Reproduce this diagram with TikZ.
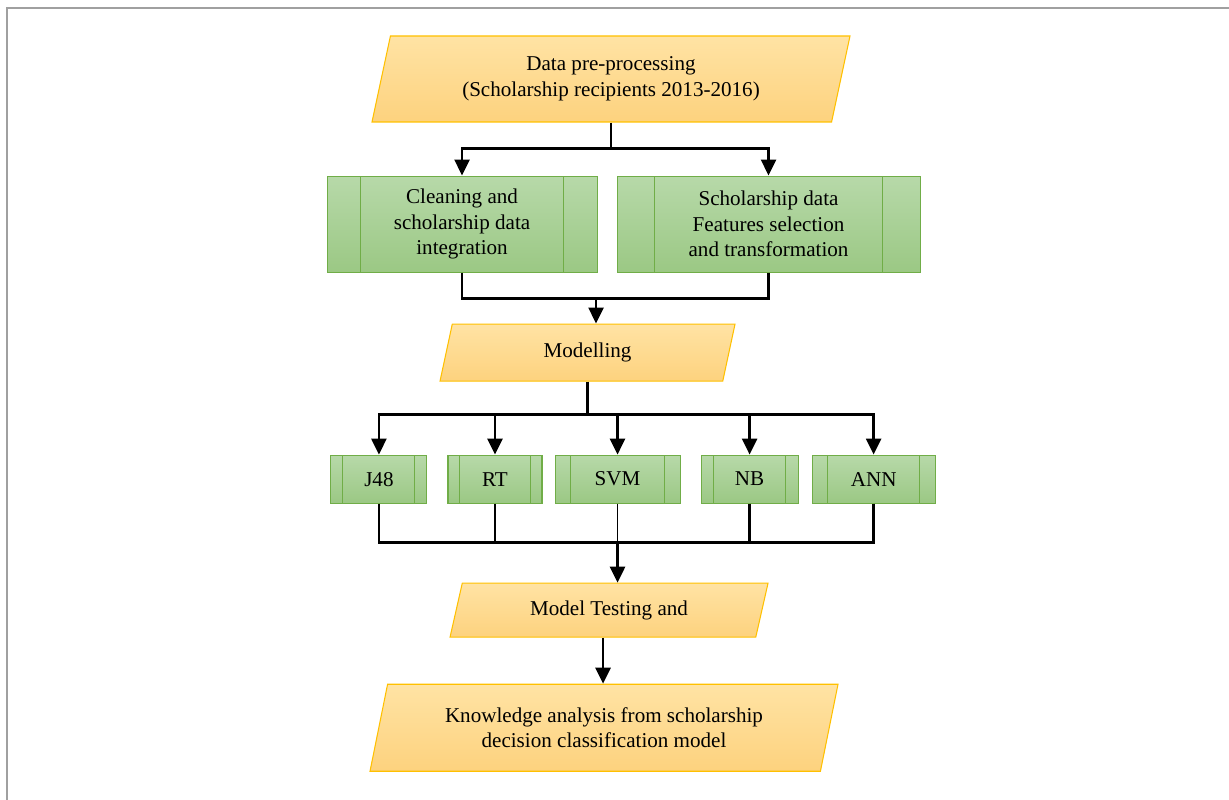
\documentclass[tikz,border=0pt]{standalone}
\usepackage{fontspec}
\setmainfont{Liberation Serif}
\usetikzlibrary{arrows.meta,shapes.geometric,positioning,calc}

\definecolor{ioedge}{RGB}{255,192,0}
\definecolor{iotop}{RGB}{255,227,164}
\definecolor{iobot}{RGB}{253,210,126}
\definecolor{procedge}{RGB}{112,173,71}
\definecolor{proctop}{RGB}{183,217,169}
\definecolor{procbot}{RGB}{155,200,132}
\definecolor{framegray}{RGB}{160,160,160}

\begin{document}
\begin{tikzpicture}[>={Triangle[width=0.3cm,length=0.32cm]},
	font=\fontsize{12}{14.5}\selectfont,
	io/.style={trapezium, trapezium left angle=76, trapezium right angle=104,
		trapezium stretches body, draw=ioedge, line width=0.6pt,
		top color=iotop, bottom color=iobot, align=center,
		inner xsep=0pt, inner ysep=0.3cm},
	proc/.style={rectangle, draw=procedge, line width=0.6pt,
		top color=proctop, bottom color=procbot, align=center, inner sep=0pt,
		path picture={
			\draw [procedge, line width=0.6pt]
			($(path picture bounding box.north west)!0.125!(path picture bounding box.north east)$) --
			($(path picture bounding box.south west)!0.125!(path picture bounding box.south east)$)
			($(path picture bounding box.north east)!0.125!(path picture bounding box.north west)$) --
			($(path picture bounding box.south east)!0.125!(path picture bounding box.south west)$);
		}},
	link/.style={line width=1.5pt}]
	\useasboundingbox (0,0) rectangle (24.58,-16);
	\draw [framegray, line width=1.2pt] (0.14,-16) -- (0.14,-0.16) -- (24.58,-0.16);

	% Nodes {data, clean, select, model}
	\node [io, minimum width=9.56cm, minimum height=1.72cm] (data) at (12.22,-1.58)
		{Data pre-processing\\(Scholarship recipients 2013-2016)};
	\node [proc, minimum width=5.4cm, minimum height=1.92cm]  (clean)  [below=1.06cm of data, xshift=-2.98cm]
		{Cleaning and\\scholarship data\\integration};
	\node [proc, minimum width=6.06cm, minimum height=1.92cm] (select) [below=1.06cm of data, xshift=3.15cm]
		{Scholarship data\\Features selection\\and transformation};
	\node [io, minimum width=5.9cm, minimum height=1.14cm]    (model)  [below=4.02cm of data, xshift=-0.47cm] {Modelling};

	% Nodes {j48, rt, svm, nb, ann}
	\node [proc, minimum width=2.5cm, minimum height=0.96cm]  (svm) [below=1.46cm of model, xshift=0.6cm] {SVM};
	\node [proc, minimum width=1.88cm, minimum height=0.96cm] (rt)  [left=0.24cm of svm]  {RT};
	\node [proc, minimum width=1.92cm, minimum height=0.96cm] (j48) [left=0.4cm of rt]    {J48};
	\node [proc, minimum width=1.94cm, minimum height=0.96cm] (nb)  [right=0.4cm of svm]  {NB};
	\node [proc, minimum width=2.46cm, minimum height=0.96cm] (ann) [right=0.26cm of nb]  {ANN};

	% Nodes {test, know}
	\node [io, minimum width=6.36cm, minimum height=1.08cm] (test) [below=1.58cm of svm, xshift=-0.17cm] {Model Testing and};
	\node [io, minimum width=9.36cm, minimum height=1.74cm] (know) [below=0.92cm of test, xshift=-0.1cm]
		{Knowledge analysis from scholarship\\decision classification model};

	% Split and merge points
	\coordinate (s1) at ($(data.south)+(0,-0.52)$);
	\coordinate (m1) at ($(clean.south -| model.north)+(0.17,-0.52)$);
	\coordinate (s2) at ($(model.south)+(0,-0.66)$);
	\coordinate (m2) at ($(svm.south)+(0,-0.78)$);

	% Paths for pre-processing
	\draw [link]     (data.south) -- (s1);
	\draw [link, ->] (s1) -| (clean.north);
	\draw [link, ->] (s1) -| (select.north);
	\draw [link]     (clean.south) |- (m1);
	\draw [link]     (select.south) |- (m1);
	\draw [link, ->] (m1) -- (m1 |- model.north);

	% Paths for modelling
	\draw [link]     (model.south) -- (s2);
	\draw [link, ->] (s2) -| (j48.north);
	\draw [link, ->] (s2) -| (rt.north);
	\draw [link, ->] (s2) -| (svm.north);
	\draw [link, ->] (s2) -| (nb.north);
	\draw [link, ->] (s2) -| (ann.north);

	% Paths for testing
	\draw [link]     (j48.south) |- (m2);
	\draw [link]     (rt.south)  |- (m2);
	\draw [line width=0.8pt] (svm.south) -- (m2);
	\draw [link]     (nb.south)  |- (m2);
	\draw [link]     (ann.south) |- (m2);
	\draw [link, ->] (m2) -- (m2 |- test.north);
	\draw [link, ->] ([xshift=-0.12cm]test.south) -- ([xshift=-0.12cm]test.south |- know.north);
\end{tikzpicture}
\end{document}
